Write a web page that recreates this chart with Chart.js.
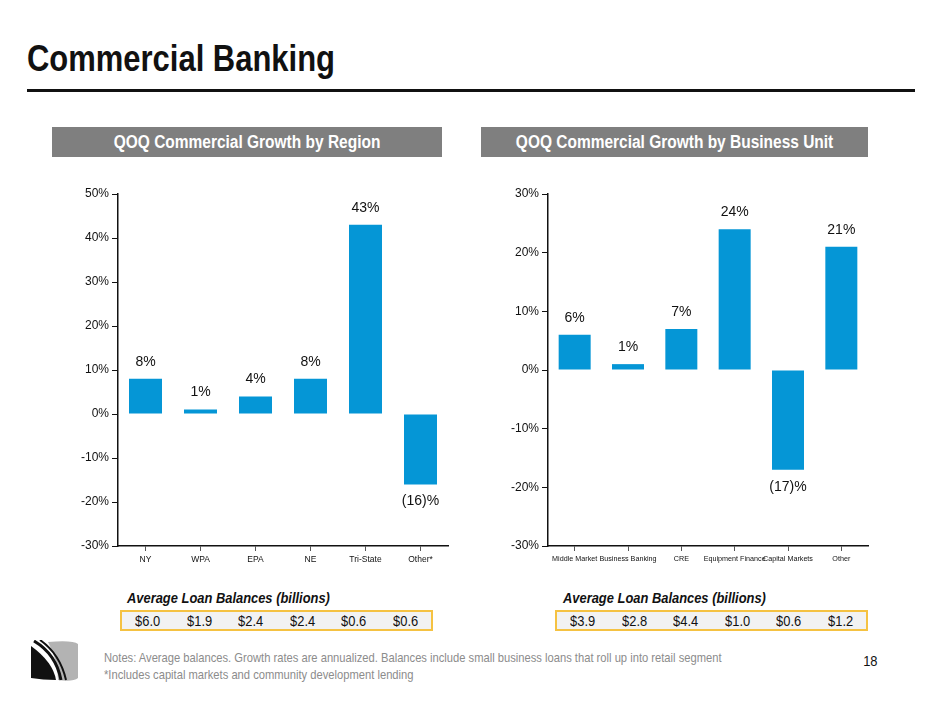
<!DOCTYPE html>
<html><head><meta charset="utf-8">
<script src="https://cdn.jsdelivr.net/npm/chart.js@4"></script>
<style>
body{margin:0;width:940px;height:705px;position:relative;background:#fff;font-family:"Liberation Sans",Arial,sans-serif;overflow:hidden}
.abs{position:absolute}
.n{display:inline-block;transform:scaleX(0.86);white-space:nowrap}
#title{left:27px;top:38px;font-size:36px;font-weight:bold;color:#111;}
#title .n{transform-origin:left}
#rule{left:27px;top:89px;width:888px;height:3px;background:#111}
.hdr{top:127px;height:30px;background:#7f7f7f;color:#fff;font-weight:bold;font-size:18px;line-height:30px;text-align:center}
.lbl{font-style:italic;font-weight:bold;font-size:15px;color:#111;top:589px}
.lbl .n{transform-origin:left}
.box{top:610px;height:21px;border:2px solid #f5c242;background:#f2f2f2;display:flex;justify-content:space-around;align-items:center;font-size:15px;color:#111;box-sizing:border-box}
#notes{left:104px;top:649px;font-size:13px;color:#8c8c8c;line-height:17px}
#notes .n{transform-origin:left}
#pg{left:862px;top:652px;font-size:15px;color:#111}
</style></head><body>
<div id="title" class="abs"><span class="n">Commercial Banking</span></div>
<div id="rule" class="abs"></div>
<div class="abs hdr" style="left:52px;width:390px"><span class="n">QOQ Commercial Growth by Region</span></div>
<div class="abs hdr" style="left:481px;width:387px"><span class="n">QOQ Commercial Growth by Business Unit</span></div>
<div class="abs" style="left:60px;top:180px;width:390px;height:400px"><canvas id="c1"></canvas></div>
<div class="abs" style="left:490px;top:180px;width:380px;height:400px"><canvas id="c2"></canvas></div>
<div class="abs lbl" style="left:127px"><span class="n">Average Loan Balances (billions)</span></div>
<div class="abs lbl" style="left:563px"><span class="n">Average Loan Balances (billions)</span></div>
<div class="abs box" id="b1" style="left:120px;width:313px"></div>
<div class="abs box" id="b2" style="left:555px;width:313px"></div>
<svg class="abs" style="left:28px;top:640px" width="52" height="42" viewBox="0 0 52 42">
<path d="M20 2 Q45 0 50 4 L50 38 Q45 42 30 40 Q30 20 20 2Z" fill="#b3b3b3"/>
<path d="M3 6 L3 38 Q15 40 28 40 Q25 22 3 6Z" fill="#111"/>
<path d="M6 1 Q28 14 33 40" stroke="#111" stroke-width="3" fill="none"/>
<path d="M12 0 Q32 14 38 40" stroke="#111" stroke-width="2" fill="none"/>
</svg>
<div id="notes" class="abs"><span class="n">Notes: Average balances. Growth rates are annualized. Balances include small business loans that roll up into retail segment<br>*Includes capital markets and community development lending</span></div>
<div id="pg" class="abs"><span class="n">18</span></div>
<script>
const regions=["NY","WPA","EPA","NE","Tri-State","Other*"];
const regionGrowth=[8,1,4,8,43,-16];
const regionBalances=["$6.0","$1.9","$2.4","$2.4","$0.6","$0.6"];
const units=["Middle Market","Business Banking","CRE","Equipment Finance","Capital Markets","Other"];
const unitGrowth=[6,1,7,24,-17,21];
const unitBalances=["$3.9","$2.8","$4.4","$1.0","$0.6","$1.2"];
const FF='"Liberation Sans", Arial';

function fill(id,arr){document.getElementById(id).innerHTML=arr.map(v=>'<span class="n">'+v+'</span>').join('');}
fill('b1',regionBalances);fill('b2',unitBalances);

const labelPlugin={id:'lbl',afterDatasetsDraw(chart){
  const ctx=chart.ctx;const meta=chart.getDatasetMeta(0);const data=chart.data.datasets[0].data;
  ctx.save();ctx.font='14px '+FF;ctx.fillStyle='#111';ctx.textAlign='center';
  meta.data.forEach((b,i)=>{const v=data[i];
    if(v>=0){ctx.textBaseline='bottom';ctx.fillText(v+'%',b.x,b.y-10);}
    else{ctx.textBaseline='top';ctx.fillText('('+(-v)+')%',b.x,b.y+10);}
  });ctx.restore();}};

function make(id,labels,data,min,max,xs){
  new Chart(document.getElementById(id),{type:'bar',
    data:{labels,datasets:[{data,backgroundColor:'#0596d6',barPercentage:0.6,categoryPercentage:1}]},
    options:{responsive:true,maintainAspectRatio:false,animation:false,
      layout:{padding:{top:14,right:2}},
      plugins:{legend:{display:false},tooltip:{enabled:false}},
      scales:{
        x:{grid:{drawOnChartArea:false,drawTicks:true,tickLength:5,color:'#555',offset:false},border:{color:'#111',width:1.5},
           ticks:{color:'#111',font:{size:xs,family:FF},maxRotation:0,autoSkip:false,padding:4},
           afterFit(s){s.height=34;}},
        y:{min,max,grid:{drawOnChartArea:false,drawTicks:true,tickLength:6,color:'#111'},border:{color:'#111',width:1.5},
           ticks:{stepSize:10,color:'#111',font:{size:12,family:FF},callback:v=>v+'%'},
           afterFit(s){s.width=58;}}
      }},plugins:[labelPlugin]});
}
make('c1',regions,regionGrowth,-30,50,8.5);
make('c2',units,unitGrowth,-30,30,7.2);
</script>
</body></html>
